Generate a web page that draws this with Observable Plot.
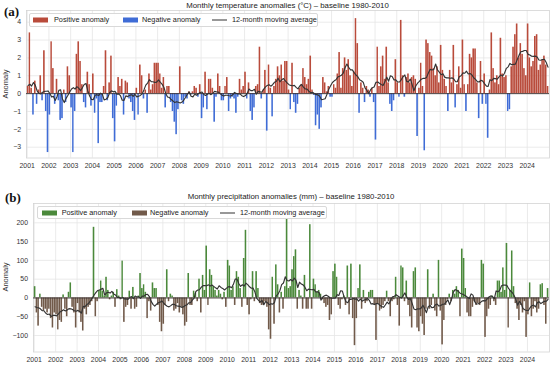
<!DOCTYPE html>
<html><head><meta charset="utf-8">
<script src="https://cdn.jsdelivr.net/npm/d3@7"></script>
<script src="https://cdn.jsdelivr.net/npm/@observablehq/plot@0.6"></script>
<style>
body{margin:0;background:#fff;}
#root{position:relative;width:550px;height:367px;overflow:hidden;font-family:"Liberation Sans",Arial,sans-serif;color:#222;background:#fff;}
.panel{position:absolute;left:0;}
.abs{position:absolute;white-space:nowrap;line-height:1;}
.title{font-size:7.8px;transform:translate(-50%,-50%);color:#222;}
.plabel{font-family:"Liberation Serif","Times New Roman",serif;font-weight:bold;font-size:13px;transform:translateY(-50%);color:#111;}
.ylab{font-size:7.5px;transform:translate(-50%,-50%) rotate(-90deg);color:#333;}
.legend{position:absolute;background:rgba(255,255,255,0.88);border:1px solid #d9d9d9;border-radius:2px;box-sizing:border-box;}
.sw{position:absolute;width:15px;height:5px;transform:translateY(-50%);}
.ln{position:absolute;width:15px;height:0;border-top:1.3px solid #333;transform:translateY(-50%);}
.lt{position:absolute;font-size:7.3px;transform:translateY(-50%);color:#222;white-space:nowrap;line-height:1;}
</style>
</head><body>
<div id="root"></div>
<script>
// ---------- data ----------
const startYear = 2001;
const yearTicks = [2001,2002,2003,2004,2005,2006,2007,2008,2009,2010,2011,2012,2013,2014,2015,2016,2017,2018,2019,2020,2021,2022,2023,2024];

// Monthly temperature anomalies (°C), Jan 2001 – Dec 2024
const tempAnomaly = [
  0.4, 3.4, 0.3,-1.2, 0.7,-0.6, 0.2, 1.0,-0.4, 2.4,-1.0,-3.3,
 -1.2, 2.9, 1.4,-0.6, 0.8,-0.4,-1.5,-1.4, 0.2,-0.5, 1.5, 1.0,
 -0.8,-3.3,-1.0, 2.2, 2.9, 1.8, 0.5,-0.5,-0.8, 1.2, 0.5,-0.7,
  1.1,-1.1,-0.3,-2.8,-0.5,-0.5, 0.4, 2.4,-0.4, 0.6, 2.1,-1.4,
 -2.7,-0.7, 0.9, 0.4, 0.8,-1.2, 0.7, 0.6,-0.3,-0.5,-1.0,-1.5,
  0.3,-1.2, 1.6, 1.0,-0.3, 0.2,-1.1, 1.1, 0.2, 0.5, 1.7, 1.7,
  1.7, 1.1, 0.3, 0.9,-0.8, 0.4, 0.4,-0.5,-1.0,-1.6,-2.3,-0.9,
  1.5,-0.4,-0.6,-0.2,-0.3, 0.1,-0.1, 0.1, 0.4, 0.3,-0.2, 0.5,
 -1.4,-0.8, 1.2,-0.9, 0.8, 0.8, 0.3,-1.6,-0.2, 1.1, 0.4,-0.4,
 -0.4, 0.4, 0.9,-1.0,-0.3,-0.2,-0.3,-1.1,-0.2, 0.8, 0.2, 0.4,
  1.2,-0.3, 0.6,-1.0,-1.5,-0.8, 0.4, 0.5, 2.6,-0.3, 0.2, 1.3,
 -2.1, 1.6, 0.3,-1.3, 0.4, 0.8, 1.5, 1.0, 1.6, 0.7, 1.8, 1.8,
  0.2,-0.9, 1.7,-0.5,-1.1,-0.6, 0.3, 0.5, 1.4, 0.9, 0.5, 0.8,
  2.1, 0.2,-0.1,-1.8,-1.2,-2.0,-0.8, 0.9, 0.6, 0.1, 0.4,-0.2,
 -0.2, 0.5, 0.3, 1.1, 2.3, 0.3, 1.4, 2.0, 1.3, 1.9, 1.0, 0.4,
  1.2, 4.2, 2.8,-1.1, 0.6, 0.3,-0.5, 0.4, 0.2,-0.2, 0.3,-0.5,
 -2.6, 2.6, 0.4, 1.5, 2.1, 0.8, 2.6, 0.6,-0.6,-1.0,-0.4, 1.9,
  0.6,-0.2, 4.1, 1.0,-0.2, 0.9, 1.1, 0.6, 0.9, 1.0, 0.8,-2.4,
  0.3, 1.7, 0.4,-3.2, 3.0, 2.8, 2.3, 2.1, 1.4, 1.0, 1.5, 0.6,
  2.7, 1.3, 0.8, 0.4,-1.0, 1.3, 0.6, 2.7,-0.8, 0.5, 1.5, 0.3,
  3.0, 0.5,-1.0, 0.5, 2.2, 2.0, 2.5, 2.5, 0.6,-1.4, 1.8,-0.6,
  1.1,-0.6,-2.5, 0.2, 3.4, 1.4, 0.6, 1.0, 0.5, 3.1, 1.1, 0.9,
  1.0,-1.0,-0.9, 1.5, 2.6, 3.3, 3.9, 2.0, 2.8, 2.2, 1.4, 1.0,
  3.9, 2.0, 1.5, 1.8, 3.2, 3.3, 1.3, 1.6, 1.9, 2.1, 1.6, 0.4
];

// Monthly precipitation anomalies (mm), Jan 2001 – Dec 2024
const precipAnomaly = [
   30, -40, -75,  10, -25, -35, -30, -40, -30, -55, -80, -40,
  -45, -85, -60, -65,   8, -30, -50,  15,  40, -25, -40, -80,
  -15, -40, -65, -88, -30, -45, -25, -20, -10, 188, -50, -10,
   20,  45,  18,   5,  55,  20,  -5,   5,  15, -25,  22,   5,
   -5,  98, -65, -25, -20,  18, -30,  28, -30, -25,   5,  65,
   25,  35,  15, -55, -10, -35,  40,  25,  25, -20, -65, -90,
  -70, -20,  75, -10,  10,   5, -35, -30, -15, -40, -25, -45,
  -75, -65,  65, -20, -20,  18,  12, -10,  50, -40,  60,  20,
  138, -20,  75,  60,  30,  20,   5,  20,  10,  -5,  15, -25,
  100,  85,  20,  30, -20,  70,  55,  25, -25, 105, 180, -20,
  -45,  -5,  70, -10,  70,  25, -15, -20, -20, -10, -25, -85,
 -110,  55, -70,  88,  35, -40,  15, -30,  30, 210,  25,  30,
   75, 110, 128, -30,  20,   5, -30,  60, -30, -30, 195, -30,
   50,  35,  15,  20,  10,  -5, -15, -25, -20, -60, -45,  70,
   90,  55, -20, -30,  -5,   5, -20,  85, -45,  90, -55,-127,
  -55,  25,  88, -30,  20, -15, -10,  15,  20,  20, -20,-113,
  -15, -35, -30, -20, -10,  18, -10, -50, -10,  -5,  55, -20,
  -75,  85,  80, -10,  45, -20, -50, -80,  70,  80, -80, -90,
  -50, -70,-100, -30,  75, -30, -20,  10, -35, -50, 100, -35,
 -125, -60, -20,  -5,  10, -10,  20,  10,  30,  20, -50, 130,
  105,  25, -40, -50, -50, -25, -10, -20, -15, -20, 100,  90,
 -105, -50, -30, -20,   5, -10, -20,  45,  45,  15,  80,  20,
  145, -80,  20, 125,  30, -15, -30, -60, -20, -40, -10,-105,
  -45,  40, -50, -30, -10, -40, -30,  35,  38, -20, -70,  25
];

const tempTicks = [-3,-2,-1,0,1,2,3,4];
const precipTicks = [-100,-50,0,50,100,150,200];

const tempTitle = "Monthly temperature anomalies (°C) – baseline 1980-2010";
const precipTitle = "Monthly precipitation anomalies (mm) – baseline 1980-2010";
const legendLabels = ["Positive anomaly","Negative anomaly","12-month moving average"];

// ---------- rendering ----------
const root = document.getElementById("root");

function makePanel(values, cfg) {
  const data = values.map((v, i) => ({
    date: new Date(Date.UTC(startYear, i, 1)),
    mid: new Date(Date.UTC(startYear, i, 16)),
    value: v
  }));
  const tickDates = yearTicks.map(y => new Date(Date.UTC(y, 0, 1)));
  return Plot.plot({
    width: 550,
    height: cfg.height,
    marginTop: cfg.marginTop,
    marginBottom: cfg.marginBottom,
    marginLeft: cfg.marginLeft,
    marginRight: 1,
    style: {fontFamily: "'Liberation Sans', Arial, sans-serif", fontSize: "6.9px", color: "#333", background: "transparent", overflow: "visible"},
    x: {type: "utc", domain: [new Date(Date.UTC(2000, 11, 20)), new Date(Date.UTC(2025, 0, 10))],
        ticks: tickDates, tickFormat: d3.utcFormat("%Y"), tickSize: 0, tickPadding: 5.5, label: null},
    y: {domain: cfg.yDomain, ticks: cfg.yTicks, tickSize: 0, tickPadding: 5.5, label: null},
    marks: [
      Plot.ruleX(tickDates, {stroke: "#e6e6e6", strokeWidth: 0.8}),
      Plot.ruleY(cfg.yTicks, {stroke: "#e6e6e6", strokeWidth: 0.8}),
      Plot.frame({stroke: "#d4d4d4", strokeWidth: 0.8}),
      Plot.rectY(data.filter(d => d.value >= 0), {x: "date", interval: "month", y: "value", fill: cfg.pos, insetLeft: 0.12, insetRight: 0.12}),
      Plot.rectY(data.filter(d => d.value < 0), {x: "date", interval: "month", y: "value", fill: cfg.neg, insetLeft: 0.12, insetRight: 0.12}),
      Plot.ruleY([0], {stroke: "#3a3030", strokeWidth: 0.9}),
      Plot.lineY(data, Plot.windowY({k: 12, anchor: "middle", strict: false}, {x: "mid", y: "value", stroke: "#333", strokeWidth: 1.15, curve: "linear"}))
    ]
  });
}

function addText(cls, text, x, y) {
  const el = document.createElement("div");
  el.className = "abs " + cls;
  el.textContent = text;
  el.style.left = x + "px";
  el.style.top = y + "px";
  root.appendChild(el);
  return el;
}

function addLegend(box, items, colors) {
  const lg = document.createElement("div");
  lg.className = "legend";
  Object.assign(lg.style, {left: box.x + "px", top: box.y + "px", width: box.w + "px", height: box.h + "px"});
  root.appendChild(lg);
  const cy = box.y + box.h / 2;
  const mk = (cls, x, color) => {
    const e = document.createElement("div");
    e.className = cls;
    e.style.left = x + "px";
    e.style.top = cy + "px";
    if (cls === "sw") e.style.background = color;
    root.appendChild(e);
  };
  mk("sw", items.sw1, colors[0]);
  mk("sw", items.sw2, colors[1]);
  mk("ln", items.ln);
  [[items.t1, legendLabels[0]], [items.t2, legendLabels[1]], [items.t3, legendLabels[2]]].forEach(([x, t]) => {
    const e = document.createElement("div");
    e.className = "lt";
    e.textContent = t;
    e.style.left = x + "px";
    e.style.top = cy + "px";
    root.appendChild(e);
  });
}

// Panel (a)
const tempPos = "#b94b3b", tempNeg = "#3f6cd6";
const pa = document.createElement("div");
pa.className = "panel"; pa.style.top = "0px";
pa.appendChild(makePanel(tempAnomaly, {height: 178, marginTop: 10, marginBottom: 20.5, marginLeft: 26,
  yDomain: [-3.605, 4.655], yTicks: tempTicks, pos: tempPos, neg: tempNeg}));
root.appendChild(pa);

// Panel (b)
const precPos = "#4b893b", precNeg = "#715a4a";
const pb = document.createElement("div");
pb.className = "panel"; pb.style.top = "185px";
pb.appendChild(makePanel(precipAnomaly, {height: 182, marginTop: 18, marginBottom: 15.5, marginLeft: 33,
  yDomain: [-143.9, 251.4], yTicks: precipTicks, pos: precPos, neg: precNeg}));
root.appendChild(pb);

// Titles & labels
addText("title", tempTitle, 287.5, 5.5);
addText("title", precipTitle, 291, 196.7);
addText("plabel", "(a)", 4, 10.5);
addText("plabel", "(b)", 5, 196.5);
addText("ylab", "Anomaly", 6, 84);
addText("ylab", "Anomaly", 6, 277);

addLegend({x: 29.3, y: 12.7, w: 289, h: 14.6},
  {sw1: 33, t1: 54, sw2: 123, t2: 142, ln: 212, t3: 232}, [tempPos, tempNeg]);
addLegend({x: 36.7, y: 206, w: 290, h: 13.3},
  {sw1: 41.7, t1: 61.7, sw2: 131.7, t2: 150, ln: 220, t3: 240}, [precPos, precNeg]);
</script>
</body></html>
